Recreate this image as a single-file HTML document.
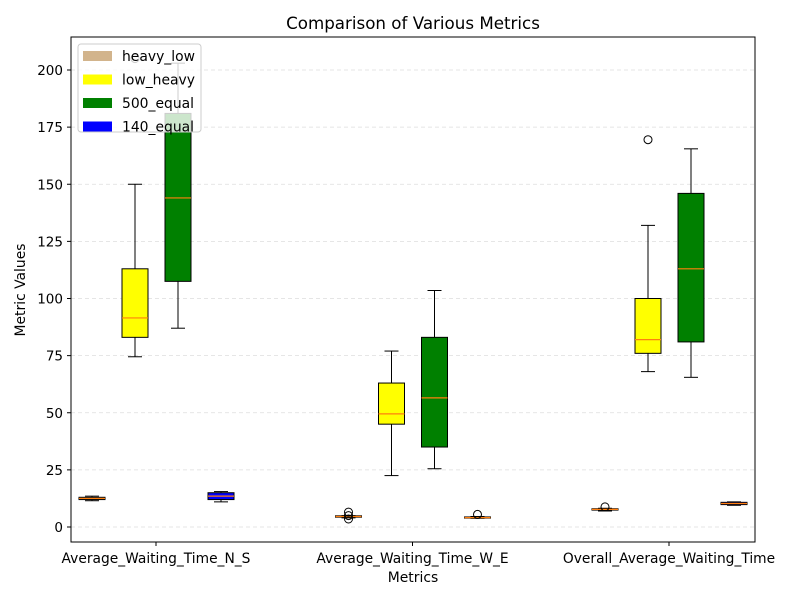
<!DOCTYPE html>
<html><head><meta charset="utf-8"><style>body{margin:0;background:#fff}svg text{font-family:"DejaVu Sans","Liberation Sans",sans-serif}</style></head>
<body>
<svg id="c" width="800" height="600" xmlns="http://www.w3.org/2000/svg">
<rect width="800" height="600" fill="#fff"/>
<g id="grid"></g><g id="marks"></g><g id="axes"></g>
</svg>
<script>
const categories=["Average_Waiting_Time_N_S","Average_Waiting_Time_W_E","Overall_Average_Waiting_Time"];
const seriesNames=["heavy_low","low_heavy","500_equal","140_equal"];
const seriesColors=["tan","yellow","green","blue"];
// each: [whiskLow,q1,median,q3,whiskHigh]
const heavyLow=[[11.5,12,12.5,13,13.5],[4,4.3,4.6,4.9,5],[7,7.4,7.7,8,8.2]];
const lowHeavy=[[74.5,83,91.5,113,150],[22.5,45,49.5,63,77],[68,76,82,100,132]];
const equal500=[[87,107.5,144,181,203],[25.5,35,56.5,83,103.5],[65.5,81,113,146,165.5]];
const equal140=[[11,12,13.5,15,15.5],[3.8,3.9,4.1,4.4,4.6],[9.5,9.8,10.3,10.8,11]];
const outliers=[[[],[205],[],[]],[[3.5,5,6.5],[],[],[5.5]],[[8.8],[169.5],[],[]]];
const yTicks=[0,25,50,75,100,125,150,175,200];
const series=[heavyLow,lowHeavy,equal500,equal140];
const NS="http://www.w3.org/2000/svg";
const L=71,R=755,T=37,B=542;
const y=v=>527-v*2.285;
const xc=i=>156+i*256.5;
const off=[-64,-21,22,65];
function el(tag,attrs,parent,txt){const e=document.createElementNS(NS,tag);for(const k in attrs)e.setAttribute(k,attrs[k]);if(txt!==undefined)e.textContent=txt;parent.appendChild(e);return e;}
const grid=document.getElementById('grid'),marks=document.getElementById('marks'),axes=document.getElementById('axes');
yTicks.forEach(t=>{
 const g=el('line',{x1:L,x2:R,y1:y(t),y2:y(t),stroke:'#ddd','stroke-dasharray':'4,3','stroke-width':0.8},grid);
 
 
 el('line',{x1:L-4,x2:L,y1:y(t),y2:y(t),stroke:'#000'},axes);
 const tx=el('text',{x:L-8,y:y(t)+5,'text-anchor':'end','font-size':13.5},axes,t);
 
 
});
categories.forEach((c,i)=>{
 el('line',{x1:xc(i),x2:xc(i),y1:B,y2:B+4,stroke:'#000'},axes);
 const tx=el('text',{x:xc(i),y:B+21,'text-anchor':'middle','font-size':13.8},axes,c);
 
 
 series.forEach((s,j)=>{
  const d=s[i],cx=xc(i)+off[j],w=13,cw=7;
  const g=el('g',{},marks);
  
  
  el('line',{x1:cx,x2:cx,y1:y(d[0]),y2:y(d[1]),stroke:'#000'},g);
  el('line',{x1:cx,x2:cx,y1:y(d[3]),y2:y(d[4]),stroke:'#000'},g);
  el('line',{x1:cx-cw,x2:cx+cw,y1:y(d[0]),y2:y(d[0]),stroke:'#000'},g);
  el('line',{x1:cx-cw,x2:cx+cw,y1:y(d[4]),y2:y(d[4]),stroke:'#000'},g);
  el('rect',{x:cx-w,y:y(d[3]),width:2*w,height:Math.max(0.5,y(d[1])-y(d[3])),fill:seriesColors[j],stroke:'#000'},g);
  el('line',{x1:cx-w,x2:cx+w,y1:y(d[2]),y2:y(d[2]),stroke:'#ff7f0e','stroke-width':1.2},g);
  outliers[i][j].forEach(o=>el('circle',{cx:cx,cy:y(o),r:4,fill:'none',stroke:'#000'},g));
 });
});
el('rect',{x:L,y:T,width:R-L,height:B-T,fill:'none',stroke:'#000'},axes);
let t=el('text',{x:413,y:29,'text-anchor':'middle','font-size':16.7},axes,'Comparison of Various Metrics');

t=el('text',{x:413,y:582,'text-anchor':'middle','font-size':13.9},axes,'Metrics');

t=el('text',{x:25,y:290,'text-anchor':'middle','font-size':13.9,transform:'rotate(-90 25 290)'},axes,'Metric Values');

const lg=el('g',{},axes);


el('rect',{x:78,y:44,width:123,height:88,rx:3,fill:'rgba(255,255,255,0.8)',stroke:'#ccc'},lg);
seriesNames.forEach((n,j)=>{
 const e=el('g',{},lg);
 
 
 el('rect',{x:83,y:51+j*23.5,width:29,height:10,fill:seriesColors[j]},e);
 el('text',{x:122,y:61+j*23.5,'font-size':13.9},e,n);
});
</script>
</body></html>
